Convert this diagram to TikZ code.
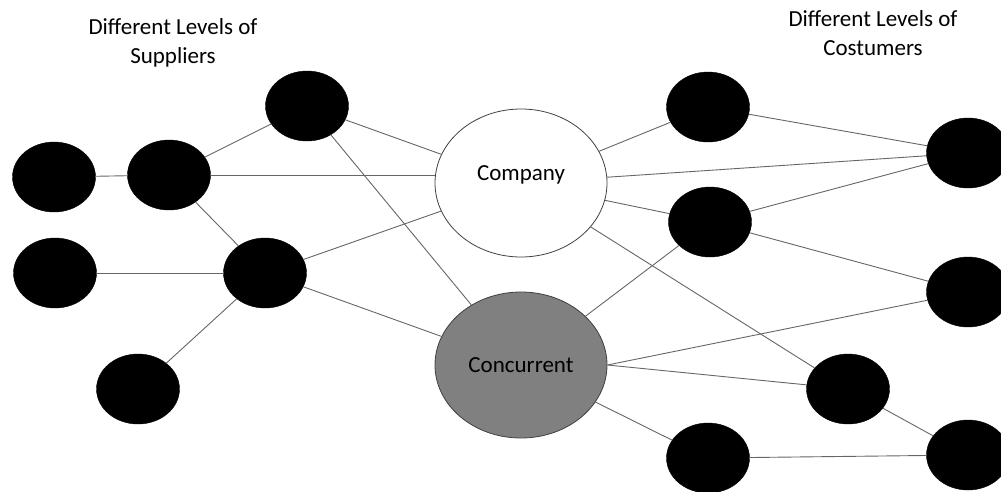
\documentclass[tikz,border=0pt]{standalone}
\usepackage{fontspec}
\setmainfont{Carlito}
\usepackage{tikz}
\usetikzlibrary{shapes}

\tikzset{partner/.style={ellipse, fill=black, draw=black, inner sep=0pt, minimum width=83pt, minimum height=70pt}}
\tikzset{link/.style={draw=black!60, line width=0.9pt}}
\tikzset{firm/.style={ellipse, draw=black!75, line width=0.8pt, inner sep=0pt, minimum width=172pt}}

\begin{document}
\begin{tikzpicture}[x=1pt,y=-1pt,font=\fontsize{23}{29}\selectfont]
\useasboundingbox (0,0) rectangle (1001,491);
\node[align=center] (suptitle) at (173,43) {Different Levels of\\Suppliers};
\node[align=center] (custitle) at (873,33) {Different Levels of\\Costumers};
% suppliers
\node[partner] (s1) at (54,177) {};
\node[partner] (s2) at (169,175) {};
\node[partner] (s3) at (307,106) {};
\node[partner] (s4) at (55,273) {};
\node[partner] (s5) at (265,273) {};
\node[partner] (s6) at (138,389) {};
% the two firms
\node[firm, fill=white, minimum height=148pt, label={[yshift=8pt]center:Company}] (company) at (521,183) {};
\node[firm, fill=black!50, minimum height=146pt] (concurrent) at (521,365) {Concurrent};
% costumers
\node[partner] (c1) at (708,107) {};
\node[partner] (c2) at (710,222) {};
\node[partner] (c3) at (968,153) {};
\node[partner] (c4) at (968,292) {};
\node[partner] (c5) at (848,389) {};
\node[partner] (c6) at (708,458) {};
\node[partner] (c7) at (968,455) {};
\draw[link] (s1) -- (s2);
\draw[link] (s2) -- (s3);
\draw[link] (s2.east) -- (s2.east -| company.west);
\draw[link] (s2) -- (s5);
\draw[link] (s4) -- (s5);
\draw[link] (s6) -- (s5);
\draw[link] (s3) -- (company);
\draw[link] (s3) -- (concurrent);
\draw[link] (s5) -- (company);
\draw[link] (s5) -- (concurrent);
\draw[link] (company) -- (c1);
\draw[link] (company) -- (c3);
\draw[link] (company) -- (c2);
\draw[link] (company) -- (c5);
\draw[link] (concurrent) -- (c2);
\draw[link] (concurrent.east) -- (c4);
\draw[link] (concurrent.east) -- (c5);
\draw[link] (concurrent) -- (c6);
\draw[link] (c1) -- (c3);
\draw[link] (c2) -- (c3);
\draw[link] (c2) -- (c4);
\draw[link] (c5) -- (c7);
\draw[link] (c6) -- (c7);
\end{tikzpicture}
\end{document}
